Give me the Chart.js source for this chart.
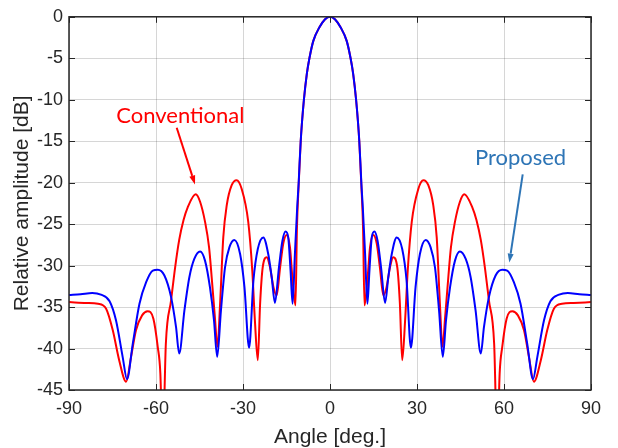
<!DOCTYPE html>
<html>
<head>
<meta charset="utf-8">
<script src="https://cdn.jsdelivr.net/npm/chart.js@4.4.1/dist/chart.umd.min.js"></script>
<style>
  html, body { margin: 0; padding: 0; background: #fff; }
  canvas { display: block; }
</style>
</head>
<body>
<canvas id="pattern" width="618" height="448"></canvas>
<script>
// Tick values for both axes
const xTicks = [-90, -60, -30, 0, 30, 60, 90];
const yTicks = [0, -5, -10, -15, -20, -25, -30, -35, -40, -45];

// Proposed array pattern (blue)
const proposedAngle = [
  -90, -86, -82, -79, -76, -73.8, -71.5, -70.0, -68.0, -65.7,
  -63.4, -61.1, -59.4, -57.1, -54.8, -53.1, -52.0, -50.2, -48.5, -46.8,
  -44.8, -43.1, -41.4, -40.0, -38.9, -37.6, -36.2, -34.7, -33.0, -31.0,
  -29.5, -27.9, -26.4, -24.9, -23.0, -21.3, -20.1, -19.0, -17.6, -16.4,
  -15.3, -14.4, -13.6, -12.9, -12.1, -11.3, -10.8, -10.5, -10.1, -9.7,
  -9.0, -8.0, -7.1, -5.75, -3.7, -1.7, 0,
  1.7, 3.7, 5.75, 7.1, 8.0, 9.0, 9.7, 10.1, 10.5, 10.8,
  11.3, 12.1, 12.9, 13.6, 14.4, 15.3, 16.4, 17.6, 19.0, 20.1,
  21.3, 23.0, 24.9, 26.4, 27.9, 29.5, 31.0, 33.0, 34.7, 36.2,
  37.6, 38.9, 40.0, 41.4, 43.1, 44.8, 46.8, 48.5, 50.2, 52.0,
  53.1, 54.8, 57.1, 59.4, 61.1, 63.4, 65.7, 68.0, 70.0, 71.5,
  73.8, 76, 79, 82, 86, 90
];
const proposedDb = [
  -33.55, -33.45, -33.3, -33.5, -34.3, -36.6, -41.0, -43.7, -39.4, -34.6,
  -32.0, -30.6, -30.5, -31.2, -33.8, -37.4, -40.6, -35.4, -31.4, -29.2,
  -28.3, -29.4, -32.6, -36.6, -41.0, -35.4, -30.2, -27.8, -26.9, -28.6,
  -32.6, -39.9, -31.8, -28.0, -26.6, -28.6, -31.4, -34.5, -30.2, -27.0,
  -25.9, -26.6, -30.6, -34.6, -28.6, -22.9, -20.0, -17.7, -15.0, -12.9,
  -10.0, -6.9, -5.0, -2.9, -1.3, -0.3, 0,
  -0.3, -1.3, -2.9, -5.0, -6.9, -10.0, -12.9, -15.0, -17.7, -20.0,
  -22.9, -28.6, -34.6, -30.6, -26.6, -25.9, -27.0, -30.2, -34.5, -31.4,
  -28.6, -26.6, -28.0, -31.8, -39.9, -32.6, -28.6, -26.9, -27.8, -30.2,
  -35.4, -41.0, -36.6, -32.6, -29.4, -28.3, -29.2, -31.4, -35.4, -40.6,
  -37.4, -33.8, -31.2, -30.5, -30.6, -32.0, -34.6, -39.4, -43.7, -41.0,
  -36.6, -34.3, -33.5, -33.3, -33.45, -33.55
];

// Conventional array pattern (red)
const conventionalAngle = [
  -90, -84, -80, -77.2, -74.9, -72.7, -70.3, -68.6, -66.9, -64.8,
  -62.9, -60.9, -59.4, -58.5, -57.7, -56.6, -54.8, -53.4, -52.0, -50.5,
  -49.1, -46.3, -44.8, -43.1, -41.7, -40.8, -39.7, -38.8, -37.9, -36.8,
  -35.6, -33.9, -32.2, -30.5, -28.2, -26.8, -25.9, -24.9, -24.1, -23.2,
  -21.8, -20.7, -19.5, -18.4, -17.2, -16.1, -14.9, -13.8, -12.9, -11.9,
  -11.4, -10.8, -10.1, -9.0, -8.0, -7.1, -5.75, -3.7, -1.7, 0,
  1.7, 3.7, 5.75, 7.1, 8.0, 9.0, 10.1, 10.8, 11.4, 11.9,
  12.9, 13.8, 14.9, 16.1, 17.2, 18.4, 19.5, 20.7, 21.8, 23.2,
  24.1, 24.9, 25.9, 26.8, 28.2, 30.5, 32.2, 33.9, 35.6, 36.8,
  37.9, 38.8, 39.7, 40.8, 41.7, 43.1, 44.8, 46.3, 49.1, 50.5,
  52.0, 53.4, 54.8, 56.6, 57.7, 58.5, 59.4, 60.9, 62.9, 64.8,
  66.9, 68.6, 70.3, 72.7, 74.9, 77.2, 80, 84, 90
];
const conventionalDb = [
  -34.4, -34.5, -34.6, -35.2, -37.8, -41.4, -44.0, -41.0, -37.8, -36.0,
  -35.5, -36.4, -39.8, -43.0, -52.0, -39.4, -34.2, -30.2, -26.9, -24.5,
  -23.0, -21.4, -22.3, -24.7, -27.8, -31.4, -36.2, -39.8, -34.6, -26.6,
  -22.7, -20.3, -19.7, -20.7, -24.7, -30.6, -36.6, -41.4, -34.6, -30.2,
  -29.0, -30.2, -32.6, -33.6, -30.2, -27.3, -26.3, -27.8, -31.8, -34.8,
  -25.5, -20.2, -15.0, -10.0, -6.9, -5.0, -2.9, -1.3, -0.3, 0,
  -0.3, -1.3, -2.9, -5.0, -6.9, -10.0, -15.0, -20.2, -25.5, -34.8,
  -31.8, -27.8, -26.3, -27.3, -30.2, -33.6, -32.6, -30.2, -29.0, -30.2,
  -34.6, -41.4, -36.6, -30.6, -24.7, -20.7, -19.7, -20.3, -22.7, -26.6,
  -34.6, -39.8, -36.2, -31.4, -27.8, -24.7, -22.3, -21.4, -23.0, -24.5,
  -26.9, -30.2, -34.2, -39.4, -52.0, -43.0, -39.8, -36.4, -35.5, -36.0,
  -37.8, -41.0, -44.0, -41.4, -37.8, -35.2, -34.6, -34.5, -34.4
];

// Text labels with arrows, placed in data units (angle, dB)
const notes = [
  { text: 'Conventional', color: '#ff0000', at: [-51.6, -12.77], from: [-52.86, -13.37], to: [-46.55, -20.22] },
  { text: 'Proposed', color: '#2e75b6', at: [65.7, -17.87], from: [66.45, -18.99], to: [61.83, -29.64] }
];

const axisColor = '#262626';
const gridColor = 'rgba(38, 38, 38, 0.19)';
const tickFont = { family: '"Liberation Sans", Arial, sans-serif', size: 18 };
const titleFont = { family: '"Liberation Sans", Arial, sans-serif', size: 21, lineHeight: 1 };

const toPoints = (xs, ys) => xs.map((x, i) => ({ x: x, y: ys[i] }));

// Box around the plot, MATLAB style inward ticks, and the arrow labels
const framePlugin = {
  id: 'frame',
  afterDatasetsDraw(chart) {
    const { ctx, chartArea: a, scales: { x, y } } = chart;
    const tick = 6;
    ctx.save();
    ctx.strokeStyle = axisColor;
    ctx.lineWidth = 1;
    ctx.beginPath();
    xTicks.forEach(v => {
      const px = Math.round(x.getPixelForValue(v)) + 0.5;
      ctx.moveTo(px, a.bottom); ctx.lineTo(px, a.bottom - tick);
      ctx.moveTo(px, a.top); ctx.lineTo(px, a.top + tick);
    });
    yTicks.forEach(v => {
      const py = Math.round(y.getPixelForValue(v)) + 0.5;
      ctx.moveTo(a.left, py); ctx.lineTo(a.left + tick, py);
      ctx.moveTo(a.right, py); ctx.lineTo(a.right - tick, py);
    });
    ctx.stroke();
    ctx.lineWidth = 1.5;
    ctx.strokeRect(a.left, a.top, a.right - a.left, a.bottom - a.top);

    notes.forEach(n => {
      ctx.fillStyle = n.color;
      ctx.strokeStyle = n.color;
      ctx.font = '22px Lato, "Open Sans", sans-serif';
      ctx.textAlign = 'center';
      ctx.textBaseline = 'alphabetic';
      ctx.fillText(n.text, x.getPixelForValue(n.at[0]), y.getPixelForValue(n.at[1]));

      const x0 = x.getPixelForValue(n.from[0]), y0 = y.getPixelForValue(n.from[1]);
      const x1 = x.getPixelForValue(n.to[0]), y1 = y.getPixelForValue(n.to[1]);
      const ang = Math.atan2(y1 - y0, x1 - x0);
      const head = 9, half = 3;
      const bx = x1 - head * Math.cos(ang), by = y1 - head * Math.sin(ang);
      ctx.lineWidth = 2;
      ctx.beginPath();
      ctx.moveTo(x0, y0);
      ctx.lineTo(bx, by);
      ctx.stroke();
      ctx.beginPath();
      ctx.moveTo(x1, y1);
      ctx.lineTo(bx + half * Math.sin(ang), by - half * Math.cos(ang));
      ctx.lineTo(bx - half * Math.sin(ang), by + half * Math.cos(ang));
      ctx.closePath();
      ctx.fill();
    });
    ctx.restore();
  }
};

new Chart(document.getElementById('pattern'), {
  type: 'line',
  data: {
    datasets: [{
      label: 'Proposed',
      data: toPoints(proposedAngle, proposedDb),
      borderColor: '#0000ff',
      borderWidth: 2,
      pointRadius: 0,
      cubicInterpolationMode: 'monotone',
      order: 0
    }, {
      label: 'Conventional',
      data: toPoints(conventionalAngle, conventionalDb),
      borderColor: '#ff0000',
      borderWidth: 2,
      pointRadius: 0,
      cubicInterpolationMode: 'monotone',
      order: 1
    }]
  },
  options: {
    responsive: false,
    animation: false,
    layout: { padding: { left: 0, top: 14, right: 27, bottom: 0 } },
    plugins: {
      legend: { display: false },
      tooltip: { enabled: false }
    },
    scales: {
      x: {
        type: 'linear',
        min: -90,
        max: 90,
        afterBuildTicks: s => { s.ticks = xTicks.map(v => ({ value: v })); },
        afterFit: s => { s.height = 58; },
        grid: { color: gridColor, drawTicks: false },
        border: { display: false },
        ticks: { font: tickFont, color: axisColor, padding: 8, callback: v => String(v) },
        title: { display: true, text: 'Angle [deg.]', font: titleFont, color: axisColor, padding: { top: 0, bottom: 0 } }
      },
      y: {
        type: 'linear',
        min: -45,
        max: 0,
        afterBuildTicks: s => { s.ticks = yTicks.map(v => ({ value: v })); },
        afterFit: s => { s.width = 69; },
        grid: { color: gridColor, drawTicks: false },
        border: { display: false },
        ticks: { font: tickFont, color: axisColor, padding: 6, callback: v => String(v) },
        title: { display: true, text: 'Relative amplitude [dB]', font: titleFont, color: axisColor, padding: { top: 12, bottom: 0 } }
      }
    }
  },
  plugins: [framePlugin]
});
</script>
</body>
</html>
